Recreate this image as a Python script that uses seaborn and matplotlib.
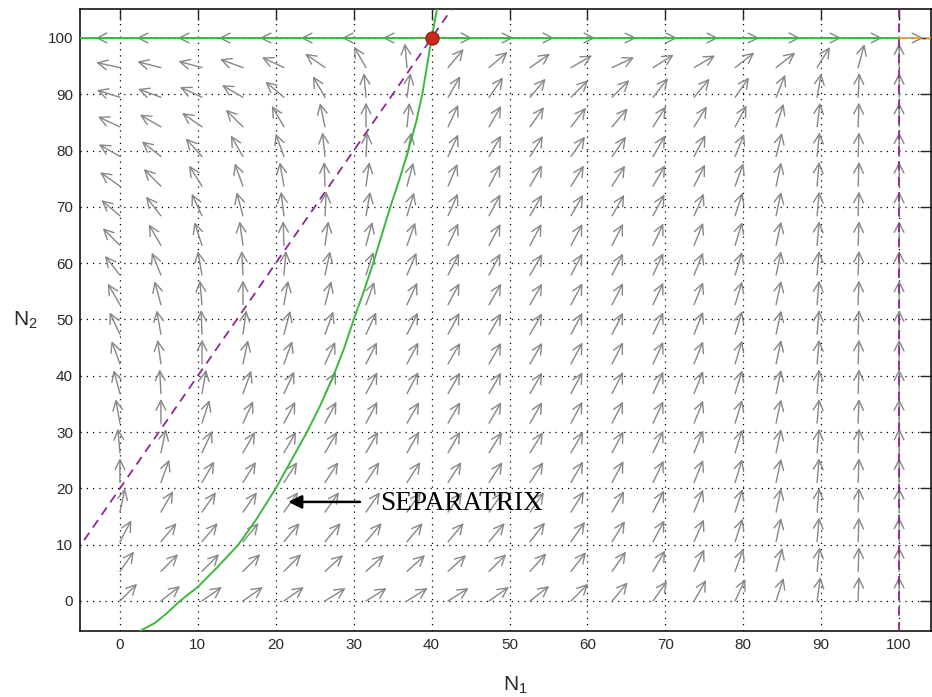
import numpy as np
import pandas as pd
import matplotlib
matplotlib.use("Agg")
import matplotlib.pyplot as plt
import seaborn as sns

# ==========================
# Data
# ==========================

# quiver grid (same points on both axes)
grid_n1 = [0, 5.26, 10.53, 15.79, 21.05, 26.32, 31.58, 36.84, 42.11, 47.37,
           52.63, 57.89, 63.16, 68.42, 73.68, 78.95, 84.21, 89.47, 94.74, 100]
grid_n2 = list(grid_n1)

# arrow direction in degrees (as seen on screen), one row per N2 value, bottom to top
arrow_angle_rows = [
    [45, 38, 35, 35, 35, 32, 32, 32, 32, 35, 38, 45, 50, 55, 60, 65, 72, 82, 88, 90],
    [55, 45, 45, 45, 45, 42, 42, 42, 42, 45, 48, 52, 55, 60, 65, 70, 75, 84, 88, 90],
    [62, 50, 50, 50, 50, 50, 50, 50, 50, 50, 52, 55, 58, 62, 66, 72, 78, 85, 88, 90],
    [78, 60, 55, 55, 55, 55, 55, 55, 55, 55, 55, 58, 60, 63, 68, 72, 78, 85, 88, 90],
    [90, 70, 60, 58, 57, 57, 57, 57, 57, 57, 57, 60, 62, 64, 68, 73, 78, 85, 88, 90],
    [95, 78, 65, 60, 60, 60, 60, 60, 60, 58, 58, 60, 62, 65, 68, 73, 78, 85, 88, 90],
    [100, 90, 72, 65, 62, 62, 62, 60, 60, 60, 60, 62, 63, 65, 68, 73, 78, 85, 88, 90],
    [105, 93, 80, 70, 65, 63, 62, 62, 60, 60, 60, 62, 63, 65, 68, 73, 78, 85, 88, 90],
    [110, 98, 90, 78, 70, 65, 63, 62, 60, 60, 60, 62, 63, 65, 68, 73, 78, 85, 88, 90],
    [115, 100, 92, 82, 75, 70, 65, 63, 62, 60, 60, 62, 63, 65, 68, 73, 78, 85, 88, 90],
    [120, 105, 95, 90, 80, 75, 70, 65, 62, 60, 60, 62, 63, 65, 68, 73, 78, 85, 88, 90],
    [128, 112, 100, 93, 85, 78, 72, 67, 63, 62, 60, 62, 63, 65, 68, 73, 78, 85, 88, 90],
    [135, 120, 108, 98, 92, 82, 75, 70, 65, 62, 62, 62, 63, 65, 68, 73, 78, 85, 88, 90],
    [140, 128, 115, 105, 97, 87, 80, 73, 66, 62, 60, 60, 60, 62, 66, 72, 78, 85, 88, 90],
    [145, 135, 122, 110, 100, 92, 82, 75, 67, 62, 60, 58, 58, 60, 63, 70, 78, 85, 88, 90],
    [150, 142, 132, 120, 110, 96, 87, 80, 65, 60, 58, 55, 55, 60, 62, 68, 76, 84, 88, 90],
    [155, 150, 145, 135, 120, 102, 90, 84, 65, 60, 55, 52, 50, 58, 58, 62, 72, 83, 88, 90],
    [163, 160, 155, 150, 140, 120, 95, 82, 60, 55, 50, 45, 45, 52, 50, 55, 68, 80, 87, 90],
    [168, 166, 165, 160, 155, 145, 120, 95, 50, 40, 35, 30, 25, 32, 30, 38, 38, 58, 75, 90],
    [180, 180, 180, 180, 180, 180, 180, 180, 0, 0, 0, 0, 0, 0, 0, 0, 0, 0, 0, 0],
]

# separatrix, read point by point
sep_n1 = [2.6, 4.5, 6.0, 7.7, 10.0, 12.5, 15.2, 17.5, 20.0, 22.0, 24.0, 25.8,
          27.4, 28.8, 30.0, 31.3, 32.5, 33.6, 34.7, 35.9, 37.0, 38.0, 38.8,
          39.4, 40.0, 40.7]
sep_n2 = [-5.3, -3.9, -2.2, 0.0, 2.5, 6.0, 10.0, 14.5, 20.0, 25.0, 30.0, 35.0,
          40.0, 45.0, 50.0, 55.0, 60.0, 65.0, 70.0, 75.0, 80.0, 85.0, 90.0,
          95.0, 100.0, 105.2]

# N2 nullcline (green horizontal) and its orange continuation
n2_null_n1 = [-5.1, 100]
n2_null_n2 = [100, 100]
orange_n1 = [100, 104.1]
orange_n2 = [100, 100]

# N1 nullclines (dashed magenta)
slant_n1 = [-4.6, 42.6]
slant_n2 = [10.8, 105.2]
vert_n1 = [100, 100]
vert_n2 = [-5.3, 105.2]

# saddle point
eq_n1 = [40]
eq_n2 = [100]

ticks = [0, 10, 20, 30, 40, 50, 60, 70, 80, 90, 100]

# ==========================
# Style
# ==========================

sns.set_style("white")
plt.rcParams["font.family"] = ["Liberation Sans", "DejaVu Sans"]
plt.rcParams["mathtext.fontset"] = "custom"
plt.rcParams["mathtext.rm"] = "Liberation Sans"
plt.rcParams["mathtext.it"] = "Liberation Sans"

fig = plt.figure(figsize=(9.32, 6.97), dpi=100)
ax = fig.add_axes([0.0858, 0.0947, 0.9132, 0.8924])

# ==========================
# Direction field
# ==========================

field = pd.DataFrame(
    [(grid_n1[i], grid_n2[j], arrow_angle_rows[j][i])
     for j in range(len(grid_n2)) for i in range(len(grid_n1))],
    columns=["N1", "N2", "angle"]
)

arrow_len = 17.5  # points
for _, row in field.iterrows():
    a = np.deg2rad(row["angle"])
    ax.annotate(
        "",
        xy=(row["N1"], row["N2"]),
        xytext=(arrow_len * np.cos(a), arrow_len * np.sin(a)),
        textcoords="offset points",
        arrowprops=dict(arrowstyle="<-, head_length=0.7, head_width=0.35",
                        color="#878787", lw=1.0, shrinkA=0, shrinkB=0),
        zorder=2,
    )

# ==========================
# Curves
# ==========================

sns.lineplot(x=n2_null_n1, y=n2_null_n2, ax=ax, color="#3cb93c", lw=1.4,
             sort=False, estimator=None, zorder=4)
sns.lineplot(x=orange_n1, y=orange_n2, ax=ax, color="#f0a030", lw=1.4,
             linestyle=(0, (4, 3)), sort=False, estimator=None, zorder=4)
sns.lineplot(x=sep_n1, y=sep_n2, ax=ax, color="#3cb93c", lw=1.4,
             sort=False, estimator=None, zorder=4)
sns.lineplot(x=slant_n1, y=slant_n2, ax=ax, color="#8b2a8b", lw=1.3,
             linestyle=(0, (5, 3.5)), sort=False, estimator=None, zorder=4)
sns.lineplot(x=vert_n1, y=vert_n2, ax=ax, color="#8b2a8b", lw=1.3,
             linestyle=(0, (5, 3.5)), sort=False, estimator=None, zorder=4)
sns.scatterplot(x=eq_n1, y=eq_n2, ax=ax, s=90, color="#c8281e",
                edgecolor="#8b1a10", linewidth=0.8, zorder=6)

# ==========================
# Annotation
# ==========================

ax.annotate(
    "",
    xy=(21.6, 17.6), xytext=(30.8, 17.6),
    arrowprops=dict(arrowstyle="-|>, head_length=0.8, head_width=0.4",
                    color="black", lw=1.8, shrinkA=0, shrinkB=0),
    zorder=7,
)
ax.text(33.4, 17.3, "SEPARATRIX", fontsize=19.6, family="Liberation Serif",
        va="center", ha="left", color="black", zorder=7)

# ==========================
# Axes
# ==========================

ax.set_xlim(-5.13, 104.1)
ax.set_ylim(-5.33, 105.15)
ax.set_xticks(ticks)
ax.set_yticks(ticks)
ax.grid(True, color="black", linestyle=(0, (1, 4)), lw=0.9)
ax.tick_params(direction="in", length=8, width=1, top=True, right=True,
               labelsize=11, labelcolor="#2a2a2a", pad=5)
for s in ax.spines.values():
    s.set_color("black")
    s.set_linewidth(1.1)

ax.set_xlabel(r"N$_1$", fontsize=15, color="#2a2a2a", va="top")
ax.set_ylabel(r"N$_2$", fontsize=15, color="#2a2a2a", rotation=0,
              ha="center", va="top")
ax.xaxis.set_label_coords(0.512, -0.0705)
ax.yaxis.set_label_coords(-0.064, 0.516)

fig.savefig("out.png", dpi=100)
